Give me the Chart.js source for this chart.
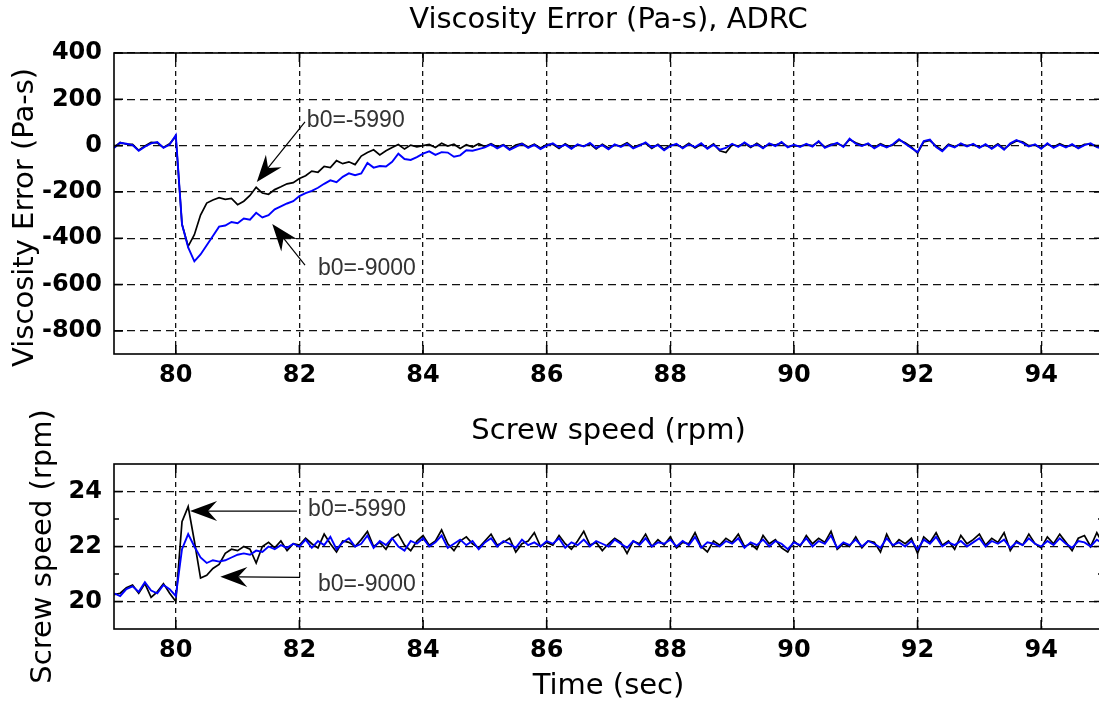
<!DOCTYPE html>
<html>
<head>
<meta charset="utf-8">
<title>Viscosity Error (Pa-s), ADRC</title>
<script src="https://cdn.jsdelivr.net/npm/chart.js@4.4.0/dist/chart.umd.min.js"></script>
<style>
  body { margin: 0; background: #fff; }
  #wrap { position: relative; width: 1099px; height: 707px; overflow: hidden; background: #fff; }
  #wrap canvas { position: absolute; left: 0; }
  #viscosityChart { top: 0; }
  #speedChart { top: 400px; }
</style>
</head>
<body>
<div id="wrap">
  <canvas id="viscosityChart" width="1103" height="400"></canvas>
  <canvas id="speedChart" width="1103" height="307"></canvas>
</div>
<script>
// samples every 0.1 s starting at 79 s
const startTime = 79;
const sampleStep = 0.1;

const timeTicks = [80, 82, 84, 86, 88, 90, 92, 94];
const viscosityTicks = [-800, -600, -400, -200, 0, 200, 400];
const speedTicks = [20, 22, 24];
const speedMinorTicks = [21, 23];

// viscosity error (Pa-s), b0=-9000 (blue)
const viscosityBlue = [
  -10, 12, 8, 2, -22, -5, 10, 15, -10, 5,
  45, -340, -440, -500, -470, -430, -390, -350, -345, -330,
  -335, -315, -320, -290, -310, -300, -275, -262, -250, -240,
  -218, -205, -195, -182, -165, -150, -158, -135, -120, -128,
  -120, -75, -95, -88, -90, -70, -35, -58, -62, -50,
  -35, -25, -40, -28, -30, -48, -42, -20, -22, -15,
  -8, 5, -12, 2, -18, -5, 8, -10, 3, -15,
  0, 10, -8, 4, -14, 6, -4, 12, -10, 2,
  -16, 5, -6, 9, -12, 0, 14, -8, 2, -20,
  -2, 8, -12, 6, -6, 10, -14, 4, -18, -10,
  8, -6, 14, -4, 6, -12, 10, -2, 16, -8,
  4, -6, 8, -4, 20, -10, 2, 12, -6, 30,
  8, -2, 10, -12, 4, -8, 6, 28, 8, -10,
  -28, 20, 26, -6, -24, 2, -8, 10, -4, 8,
  -10, 6, -14, 4, -18, 10, 24, 12, -4, 6,
  -14, 10, -10, 4, -8, 6, -12, 2, 10, -6,
  -14
];

// viscosity error (Pa-s), b0=-5990 (black)
const viscosityBlack = [
  -8, 14, 6, 5, -20, -2, 14, 12, -8, 8,
  40, -340, -435, -385, -300, -248, -235, -225, -232, -228,
  -255, -240, -215, -180, -205, -210, -190, -178, -165, -160,
  -142, -130, -110, -115, -90, -95, -65, -78, -70, -82,
  -45, -30, -18, -40, -22, -8, 5, -15, 2, -5,
  0, 5, -8, 10, -2, 6, -12, 4, -6, 8,
  -4, 8, -6, 4, -14, 2, 10, -6, 6, -10,
  4, 6, -12, 8, -8, 2, -2, 8, -14, 6,
  -10, 2, -2, 12, -8, 4, 10, -12, 6, -16,
  2, 4, -8, 10, -10, 6, -10, 8, -22, -30,
  4, -2, 10, -8, 10, -8, 6, 2, 12, -4,
  0, -2, 4, 0, 16, -6, 6, 8, -2, 26,
  12, 2, 6, -8, 8, -4, 2, 24, 12, -6,
  -32, 16, 22, -2, -20, 6, -4, 6, 0, 4,
  -6, 2, -10, 8, -14, 6, 20, 16, 0, 2,
  -10, 6, -6, 8, -4, 2, -8, 6, 6, -2,
  -10
];

// screw speed (rpm), b0=-9000 (blue)
const speedBlue = [
  20.3, 20.2, 20.45, 20.55, 20.35, 20.7, 20.4, 20.3, 20.6, 20.45,
  20.2, 21.9, 22.45, 22.0, 21.6, 21.4, 21.5, 21.45, 21.5, 21.6,
  21.7, 21.75, 21.7, 21.85, 21.8, 22.0, 21.9, 22.05, 21.95, 22.1,
  22.0, 22.25, 21.95, 22.2, 22.05, 22.35, 21.9, 22.15, 22.3, 22.0,
  22.1, 22.4, 21.95, 22.2, 22.05, 22.3, 22.0, 21.85, 22.2, 22.1,
  22.3, 22.0, 22.15, 22.4, 21.95, 22.1, 22.25, 22.05, 22.2, 21.9,
  22.15, 22.3, 22.0, 22.2, 22.1, 21.95, 22.25, 22.05, 22.15, 22.0,
  22.2, 22.1, 22.3, 21.95, 22.15, 22.05, 22.25, 22.0, 22.2, 22.1,
  22.0, 22.25, 22.1, 21.95, 22.2, 22.05, 22.3, 22.0, 22.15, 22.1,
  22.25, 22.0, 22.2, 22.05, 22.35, 21.95, 22.15, 22.1, 22.0, 22.2,
  22.1, 22.3, 21.95, 22.15, 22.05, 22.25, 22.0, 22.2, 22.1, 21.9,
  22.15, 22.05, 22.3, 22.0, 22.2, 22.1, 22.4, 21.95, 22.15, 22.05,
  22.25, 22.0, 22.2, 22.1, 21.95, 22.3, 22.05, 22.15, 22.0, 22.2,
  21.9, 22.25, 22.1, 22.35, 22.0, 22.15, 22.05, 22.2, 22.0, 22.15,
  22.3, 22.0, 22.2, 22.1, 22.25, 21.95, 22.15, 22.05, 22.3, 22.1,
  22.0, 22.2, 22.05, 22.3, 22.1, 21.95, 22.2, 22.15, 22.0, 22.25,
  22.1
];

// screw speed (rpm), b0=-5990 (black)
const speedBlack = [
  20.25, 20.3, 20.5, 20.6, 20.3, 20.65, 20.15, 20.35, 20.65, 20.3,
  20.0, 22.9, 23.45, 22.2, 20.85, 20.95, 21.2, 21.35, 21.75, 21.9,
  21.85, 22.0, 21.9, 21.4, 22.0, 22.15, 21.95, 22.2, 21.85, 22.1,
  22.05, 22.3, 22.1, 21.95, 22.45, 22.1, 21.8, 22.2, 22.15, 22.0,
  22.25, 22.55, 22.0, 22.15, 21.9, 22.3, 22.45, 22.05, 21.85, 22.2,
  22.4, 22.05, 22.2, 22.6, 22.1, 21.85, 22.2, 22.35, 22.1, 21.95,
  22.2, 22.45, 22.05, 22.15, 22.3, 21.8, 22.1, 22.2, 22.5, 22.0,
  22.15, 22.05, 22.4, 22.1, 21.9, 22.2, 22.55, 22.05, 22.15, 21.85,
  22.1, 22.3, 22.15, 21.75, 22.2, 22.1, 22.45, 22.0, 22.25, 22.05,
  22.35, 21.95, 22.15, 22.1, 22.5, 22.0, 21.8, 22.2, 22.05, 22.3,
  22.15, 22.45, 22.0, 22.1, 21.9, 22.4, 22.1, 22.25, 21.95, 21.8,
  22.2, 22.0, 22.4, 22.1, 22.3, 22.15, 22.55, 21.9, 22.1, 22.0,
  22.35, 21.95, 22.2, 22.15, 21.8, 22.45, 22.0, 22.25, 22.1, 22.3,
  21.75, 22.35, 22.15, 22.5, 22.05, 22.2, 21.9, 22.4, 22.1, 22.25,
  22.45, 22.05, 22.3, 22.15, 22.5, 21.85, 22.2, 22.05, 22.45, 22.1,
  21.95, 22.35, 22.1, 22.45, 22.15, 21.85, 22.3, 22.4, 22.0, 22.5,
  22.1
];

// arrow notes, in data units
const viscosityNotes = [
  { text: "b0=-5990", at: [82.12, 106], from: [82.09, 102], to: [81.31, -157] },
  { text: "b0=-9000", at: [82.30, -533], from: [82.09, -516], to: [81.56, -339] }
];
const speedNotes = [
  { text: "b0=-5990", at: [82.14, 23.33], from: [81.96, 23.29], to: [80.23, 23.29] },
  { text: "b0=-9000", at: [82.30, 20.60], from: [82.01, 20.88], to: [80.72, 20.90] }
];

Chart.defaults.font.family = "'DejaVu Sans', sans-serif";
Chart.defaults.color = "#000";

function toPoints(values) {
  return values.map((v, i) => ({ x: Math.round((startTime + i * sampleStep) * 10) / 10, y: v }));
}

function drawArrow(ctx, x0, y0, x1, y1) {
  const ang = Math.atan2(y1 - y0, x1 - x0);
  const len = 27, half = 10, notch = 18;
  const c = Math.cos(ang), s = Math.sin(ang);
  ctx.beginPath();
  ctx.moveTo(x0, y0);
  ctx.lineTo(x1 - c * notch, y1 - s * notch);
  ctx.stroke();
  ctx.beginPath();
  ctx.moveTo(x1, y1);
  ctx.lineTo(x1 - c * len - s * half, y1 - s * len + c * half);
  ctx.lineTo(x1 - c * notch, y1 - s * notch);
  ctx.lineTo(x1 - c * len + s * half, y1 - s * len - c * half);
  ctx.closePath();
  ctx.fill();
}

// matlab style box: frame, inward ticks, rotated y label, arrow notes
const axesBox = {
  id: "axesBox",
  afterDraw(chart, args, opts) {
    const { ctx, chartArea: a, scales: { x, y } } = chart;
    ctx.save();
    ctx.strokeStyle = "#000";
    ctx.lineWidth = 1.6;
    ctx.strokeRect(a.left, a.top, a.right - a.left, a.bottom - a.top);

    ctx.beginPath();
    timeTicks.forEach((v) => {
      const px = x.getPixelForValue(v);
      ctx.moveTo(px, a.bottom); ctx.lineTo(px, a.bottom - 9);
      ctx.moveTo(px, a.top); ctx.lineTo(px, a.top + 9);
    });
    opts.yTicks.forEach((v) => {
      const py = y.getPixelForValue(v);
      ctx.moveTo(a.left, py); ctx.lineTo(a.left + 9, py);
      ctx.moveTo(a.right, py); ctx.lineTo(a.right - 9, py);
    });
    (opts.yMinor || []).forEach((v) => {
      const py = y.getPixelForValue(v);
      ctx.moveTo(a.left, py); ctx.lineTo(a.left + 5, py);
      ctx.moveTo(a.right, py); ctx.lineTo(a.right - 5, py);
    });
    ctx.stroke();

    // y axis label
    ctx.save();
    ctx.fillStyle = "#000";
    ctx.font = "29px 'DejaVu Sans'";
    ctx.textAlign = "center";
    ctx.textBaseline = "middle";
    ctx.translate(opts.yTitleX, y.getPixelForValue(opts.yTitleAt));
    ctx.rotate(-Math.PI / 2);
    ctx.fillText(opts.yTitle, 0, 0);
    ctx.restore();

    // notes
    ctx.fillStyle = "#000";
    ctx.strokeStyle = "#000";
    ctx.lineWidth = 1.2;
    opts.notes.forEach((n) => {
      drawArrow(ctx,
        x.getPixelForValue(n.from[0]), y.getPixelForValue(n.from[1]),
        x.getPixelForValue(n.to[0]), y.getPixelForValue(n.to[1]));
    });
    ctx.fillStyle = "#333";
    ctx.font = "23px 'Liberation Sans'";
    ctx.textAlign = "left";
    ctx.textBaseline = "middle";
    opts.notes.forEach((n) => {
      ctx.fillText(n.text, x.getPixelForValue(n.at[0]), y.getPixelForValue(n.at[1]));
    });
    ctx.restore();
  }
};

function makeConfig(o) {
  return {
    type: "line",
    data: {
      datasets: [
        { label: "b0=-9000", data: toPoints(o.blue), borderColor: "#0000ff", borderWidth: 1.9 },
        { label: "b0=-5990", data: toPoints(o.black), borderColor: "#000000", borderWidth: 1.7 }
      ]
    },
    options: {
      responsive: false,
      animation: false,
      events: [],
      elements: { point: { radius: 0 }, line: { tension: 0 } },
      layout: { padding: 0 },
      scales: {
        x: {
          type: "linear",
          min: 79,
          max: 95,
          afterBuildTicks: (s) => { s.ticks = timeTicks.map((v) => ({ value: v })); },
          afterFit: (s) => { s.height = o.xHeight; },
          ticks: { font: { size: 24, weight: "bold" }, padding: 7, maxRotation: 0, autoSkip: false, callback: (v) => String(v) },
          grid: { color: "#111", lineWidth: 1.3, drawTicks: false },
          border: { display: false, dash: [5, 4] },
          title: o.xTitle ? { display: true, text: o.xTitle, font: { size: 29 }, padding: { top: 0, bottom: 3 } } : { display: false }
        },
        y: {
          min: o.yMin,
          max: o.yMax,
          afterBuildTicks: (s) => { s.ticks = o.yTicks.map((v) => ({ value: v })); },
          afterFit: (s) => { s.width = 114; },
          ticks: { font: { size: 24, weight: "bold" }, padding: 12, callback: (v) => String(v) },
          grid: { color: "#111", lineWidth: 1.3, drawTicks: false },
          border: { display: false, dash: [8, 5] }
        }
      },
      plugins: {
        legend: { display: false },
        tooltip: { enabled: false },
        title: {
          display: true,
          text: o.title,
          fullSize: false,
          color: "#000",
          font: { size: 29, weight: "normal" },
          padding: o.titlePadding
        },
        axesBox: {
          yTicks: o.yTicks,
          yMinor: o.yMinor,
          yTitle: o.yTitle,
          yTitleX: o.yTitleX,
          yTitleAt: o.yTitleAt,
          notes: o.notes
        }
      }
    },
    plugins: [axesBox]
  };
}

new Chart(document.getElementById("viscosityChart"), makeConfig({
  blue: viscosityBlue,
  black: viscosityBlack,
  title: "Viscosity Error (Pa-s), ADRC",
  titlePadding: { top: 2.6, bottom: 15.6 },
  yTitle: "Viscosity Error (Pa-s)",
  yTitleX: 25,
  yTitleAt: -310,
  yMin: -900,
  yMax: 400,
  yTicks: viscosityTicks,
  xHeight: 46,
  notes: viscosityNotes
}));

new Chart(document.getElementById("speedChart"), makeConfig({
  blue: speedBlue,
  black: speedBlack,
  title: "Screw speed (rpm)",
  titlePadding: { top: 13.6, bottom: 15.6 },
  yTitle: "Screw speed (rpm)",
  yTitleX: 43,
  yTitleAt: 22,
  yMin: 19,
  yMax: 25,
  yTicks: speedTicks,
  yMinor: speedMinorTicks,
  xHeight: 78,
  xTitle: "Time (sec)",
  notes: speedNotes
}));
</script>
</body>
</html>
